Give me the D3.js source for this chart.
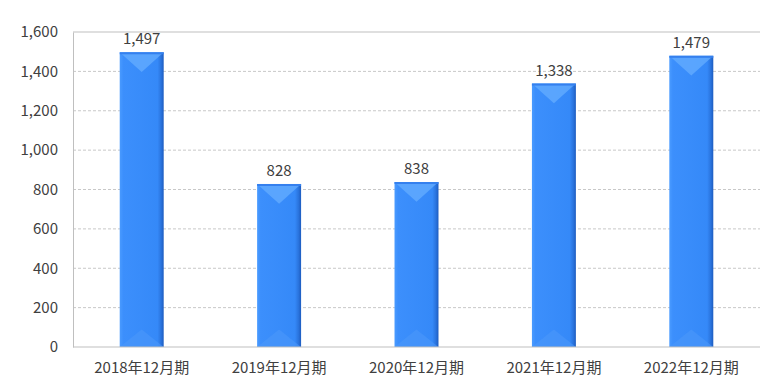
<!DOCTYPE html>
<html>
<head>
<meta charset="utf-8">
<script src="https://cdn.jsdelivr.net/npm/d3@7"></script>
<style>
  body { margin: 0; background: #fff; }
  text { font-family: "Noto Sans CJK JP", "Open Sans", sans-serif; fill: #404040; }
</style>
</head>
<body>
<div id="chart"></div>
<script>
const categories = ["2018年12月期", "2019年12月期", "2020年12月期", "2021年12月期", "2022年12月期"];
const values = [1497, 828, 838, 1338, 1479];
const yTicks = [0, 200, 400, 600, 800, 1000, 1200, 1400, 1600];

const width = 772, height = 389;
const plotLeft = 73, plotRight = 760, plotTop = 32, plotBottom = 347;

const svg = d3.select("#chart").append("svg")
    .attr("width", width)
    .attr("height", height);

const defs = svg.append("defs");
const grad = defs.append("linearGradient").attr("id", "barGrad")
    .attr("x1", "0%").attr("x2", "100%").attr("y1", "0%").attr("y2", "0%");
grad.append("stop").attr("offset", "0%").attr("stop-color", "#4a9bff");
grad.append("stop").attr("offset", "8%").attr("stop-color", "#3c8ffc");
grad.append("stop").attr("offset", "86%").attr("stop-color", "#3589f8");
grad.append("stop").attr("offset", "94%").attr("stop-color", "#2a74de");
grad.append("stop").attr("offset", "100%").attr("stop-color", "#1d5cc0");

const x = d3.scaleBand().domain(categories).range([plotLeft, plotRight]).paddingInner(0.68).paddingOuter(0.34);
const y = d3.scaleLinear().domain([0, 1600]).range([plotBottom, plotTop]);

// gridlines
svg.append("g")
    .selectAll("line")
    .data(yTicks.filter(d => d > 0))
    .enter().append("line")
    .attr("x1", plotLeft).attr("x2", plotRight)
    .attr("y1", d => y(d)).attr("y2", d => y(d))
    .attr("stroke", d => d === 1600 ? "#bfbfbf" : "#c8c8c8")
    .attr("stroke-dasharray", d => d === 1600 ? null : "3,2");

// y axis
const yaxis = d3.axisLeft(y).tickValues(yTicks).tickSize(0).tickPadding(15)
    .tickFormat(d3.format(",.0f"));
const gy = svg.append("g").attr("transform", "translate(" + plotLeft + ",0)").call(yaxis);
gy.select(".domain").attr("stroke", "#bfbfbf");
gy.selectAll("text").style("font-size", "15px").attr("fill", "#404040");

// bars
const bars = svg.append("g").selectAll("g").data(values).enter().append("g");
bars.append("rect")
    .attr("x", (d, i) => x(categories[i]))
    .attr("y", d => y(d))
    .attr("width", x.bandwidth())
    .attr("height", d => plotBottom - y(d))
    .attr("fill", "url(#barGrad)");
// top bevel
bars.append("path")
    .attr("d", (d, i) => {
        const x0 = x(categories[i]), w = x.bandwidth(), y0 = y(d);
        return "M" + x0 + "," + y0 + "L" + (x0 + w) + "," + y0 + "L" + (x0 + w / 2) + "," + (y0 + w * 0.45) + "Z";
    })
    .attr("fill", "#66adff")
    .attr("opacity", 0.75);
// bottom bevel
bars.append("path")
    .attr("d", (d, i) => {
        const x0 = x(categories[i]), w = x.bandwidth();
        return "M" + x0 + "," + plotBottom + "L" + (x0 + w) + "," + plotBottom + "L" + (x0 + w / 2) + "," + (plotBottom - w * 0.4) + "Z";
    })
    .attr("fill", "#4b98fa")
    .attr("opacity", 0.6);
// top edge
bars.append("rect")
    .attr("x", (d, i) => x(categories[i]))
    .attr("y", d => y(d))
    .attr("width", x.bandwidth())
    .attr("height", 2)
    .attr("fill", "#3580ee");

// value labels
bars.append("text")
    .attr("x", (d, i) => x(categories[i]) + x.bandwidth() / 2)
    .attr("y", d => y(d) - 8)
    .attr("text-anchor", "middle")
    .style("font-size", "15px")
    .text(d => d3.format(",")(d));

// baseline
svg.append("line")
    .attr("x1", plotLeft).attr("x2", plotRight)
    .attr("y1", plotBottom).attr("y2", plotBottom)
    .attr("stroke", "#bfbfbf");

// x axis labels
const xaxis = d3.axisBottom(x).tickSize(0).tickPadding(15);
const gx = svg.append("g").attr("transform", "translate(0," + plotBottom + ")").call(xaxis);
gx.select(".domain").remove();
gx.selectAll("text").style("font-size", "15px").attr("fill", "#404040");
</script>
</body>
</html>
